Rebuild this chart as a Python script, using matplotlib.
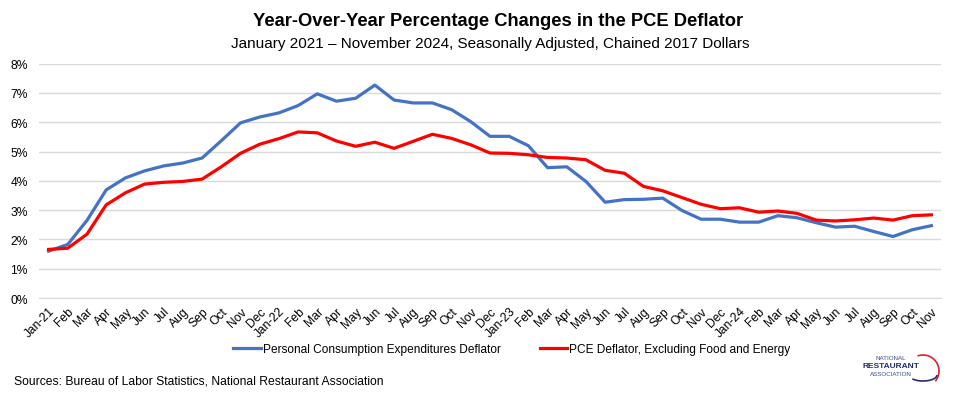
import matplotlib
matplotlib.use("Agg")
import matplotlib.pyplot as plt
from matplotlib.ticker import PercentFormatter
from matplotlib.patches import Arc

months = ["Jan-21", "Feb", "Mar", "Apr", "May", "Jun", "Jul", "Aug", "Sep", "Oct", "Nov", "Dec",
          "Jan-22", "Feb", "Mar", "Apr", "May", "Jun", "Jul", "Aug", "Sep", "Oct", "Nov", "Dec",
          "Jan-23", "Feb", "Mar", "Apr", "May", "Jun", "Jul", "Aug", "Sep", "Oct", "Nov", "Dec",
          "Jan-24", "Feb", "Mar", "Apr", "May", "Jun", "Jul", "Aug", "Sep", "Oct", "Nov"]

pce = [1.60, 1.83, 2.65, 3.69, 4.10, 4.34, 4.51, 4.61, 4.78, 5.37, 5.98, 6.18,
       6.32, 6.57, 6.97, 6.72, 6.82, 7.27, 6.76, 6.66, 6.66, 6.43, 6.02, 5.52,
       5.52, 5.20, 4.45, 4.48, 3.98, 3.27, 3.36, 3.37, 3.41, 2.99, 2.69, 2.69,
       2.59, 2.59, 2.81, 2.74, 2.57, 2.42, 2.45, 2.27, 2.10, 2.33, 2.47]

core = [1.66, 1.70, 2.18, 3.18, 3.59, 3.89, 3.95, 3.98, 4.06, 4.48, 4.94, 5.25,
        5.44, 5.67, 5.64, 5.36, 5.18, 5.32, 5.11, 5.35, 5.59, 5.45, 5.23, 4.95,
        4.94, 4.89, 4.80, 4.78, 4.72, 4.36, 4.26, 3.81, 3.66, 3.43, 3.20, 3.05,
        3.08, 2.93, 2.97, 2.89, 2.66, 2.63, 2.67, 2.73, 2.66, 2.81, 2.84]

series_names = ["Personal Consumption Expenditures Deflator",
                "PCE Deflator, Excluding Food and Energy"]

plt.rcParams['font.family'] = ['Liberation Sans', 'DejaVu Sans']

fig = plt.figure(figsize=(9.55, 4.06), dpi=100)
ax = fig.add_axes([39/955, 1-299/406, (941-39)/955, (299-64.7)/406])

x = list(range(len(months)))
ax.plot(x, pce, color='#4472C4', lw=2.3, label=series_names[0], solid_joinstyle='round')
ax.plot(x, core, color='#FF0000', lw=2.3, label=series_names[1], solid_joinstyle='round')

ax.set_xlim(-0.5, len(months) - 0.5)
ax.set_ylim(0, 8)
ax.set_yticks(range(0, 9))
ax.yaxis.set_major_formatter(PercentFormatter(decimals=0))
ax.grid(axis='y', color='#D9D9D9', lw=1)
ax.set_axisbelow(True)
for s in ['top', 'right', 'left']:
    ax.spines[s].set_visible(False)
ax.spines['bottom'].set_color('#D9D9D9')
ax.tick_params(axis='both', length=0, labelsize=8.7, colors='#000000')
ax.tick_params(axis='y', pad=8)
ax.set_xticks(x)
ax.set_xticklabels(months, rotation=45, ha='right', rotation_mode='anchor')
ax.tick_params(axis='x', pad=5)

fig.text(0.522, 1-22/406, "Year-Over-Year Percentage Changes in the PCE Deflator",
         ha='center', va='center', fontsize=13.2, fontweight='bold')
fig.text(0.513, 1-44/406, "January 2021 \u2013 November 2024, Seasonally Adjusted, Chained 2017 Dollars",
         ha='center', va='center', fontsize=11)

fig.legend(loc='center', bbox_to_anchor=(0.536, 1-350/406), ncol=2, frameon=False,
           fontsize=8.6, handlelength=2.3, columnspacing=3.3, handletextpad=0.15)

fig.text(14/955, 1-382/406, "Sources: Bureau of Labor Statistics, National Restaurant Association",
         ha='left', va='center', fontsize=8.7)

# logo approximation
fig.text(891/955, 1-359/406, "NATIONAL", ha='center', va='center', fontsize=4.5, color='#3A4A8A')
fig.text(891/955, 1-367/406, "RESTAURANT", ha='center', va='center', fontsize=6, fontweight='bold', color='#1F2F6F')
fig.text(891/955, 1-375/406, "ASSOCIATION", ha='center', va='center', fontsize=4.5, color='#3A4A8A')
lax = fig.add_axes([903/955, 1-390/406, 40/955, 40/406])
lax.set_xlim(0, 1); lax.set_ylim(0, 1); lax.axis('off')
lax.add_patch(Arc((0.5, 0.45), 0.8, 0.8, theta1=-40, theta2=110, color='#E0202A', lw=1.2))
lax.add_patch(Arc((0.5, 0.35), 0.7, 0.3, theta1=200, theta2=360, color='#1F2F6F', lw=1.2))

fig.savefig("out.png", dpi=100)
